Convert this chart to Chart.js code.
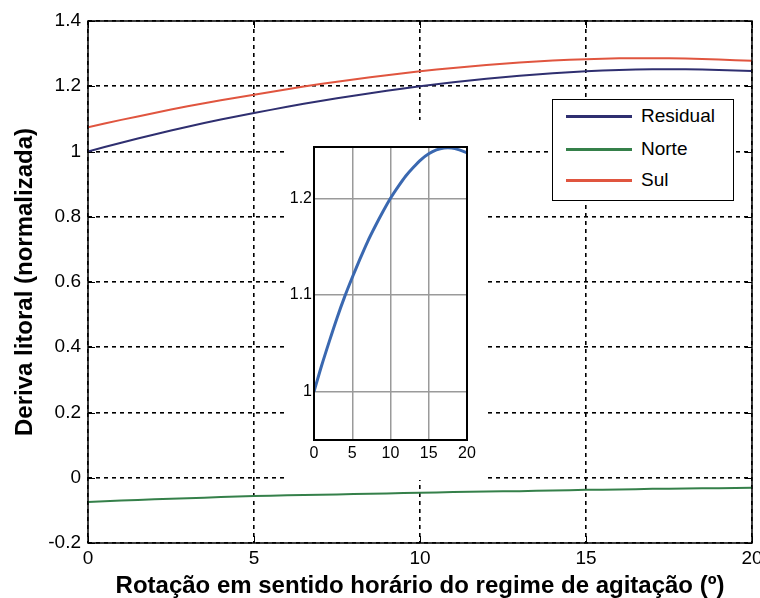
<!DOCTYPE html>
<html><head><meta charset="utf-8">
<script src="https://cdn.jsdelivr.net/npm/chart.js@4.4.1/dist/chart.umd.min.js"></script>
<style>
html,body{margin:0;padding:0;background:#fff;}
#wrap{position:relative;width:760px;height:598px;overflow:hidden;background:#fff;}
#main{position:absolute;left:0;top:0;}
#inset{position:absolute;left:285px;top:120px;background:#fff;}
#legend{position:absolute;left:552px;top:99px;width:180px;height:100px;border:1px solid #000;background:#fff;font-family:"Liberation Sans",Arial,sans-serif;font-size:19px;color:#000;}
.sw{position:absolute;left:13px;width:66px;height:3px;}
.lbl{position:absolute;left:88px;line-height:22px;}
</style></head>
<body><div id="wrap">
<canvas id="main" width="760" height="598"></canvas>
<canvas id="inset" width="201" height="360"></canvas>
<div id="legend"></div>
</div>
<script>
// ---- data ----
const angles   = [0,1,2,3,4,5,6,7,8,9,10,11,12,13,14,15,16,17,18,19,20];
const residual = [1.000,1.027,1.052,1.076,1.098,1.118,1.137,1.155,1.171,1.186,1.200,1.212,1.223,1.232,1.240,1.246,1.250,1.252,1.252,1.250,1.247];
const norte    = [-0.074,-0.070,-0.066,-0.063,-0.059,-0.056,-0.054,-0.052,-0.050,-0.048,-0.046,-0.044,-0.042,-0.041,-0.039,-0.037,-0.036,-0.034,-0.033,-0.032,-0.031];
const sul      = [1.074,1.097,1.118,1.139,1.157,1.174,1.191,1.207,1.221,1.234,1.246,1.256,1.265,1.273,1.279,1.283,1.286,1.286,1.285,1.282,1.278];
const seriesNames  = ['Residual','Norte','Sul'];
const seriesColors = ['#2f2f70','#35804a','#e0553f'];
const xTicks       = [0,5,10,15,20];
const xTickLabels  = ['0','5','10','15','20'];
const yTicks       = [-0.2,0,0.2,0.4,0.6,0.8,1,1.2,1.4];
const yTickLabels  = ['-0.2','0','0.2','0.4','0.6','0.8','1','1.2','1.4'];
const insetYTicks  = [1,1.1,1.2];
const insetYTickLabels = ['1','1.1','1.2'];
const xTitle = 'Rotação em sentido horário do regime de agitação (º)';
const yTitle = 'Deriva litoral (normalizada)';

const FONT = '"Liberation Sans", Arial, Helvetica, sans-serif';
const pts = arr => angles.map((a,i)=>({x:a,y:arr[i]}));

const frame = {
  id:'frame',
  afterDraw(chart, args, opts){
    const {ctx, chartArea:a, scales} = chart;
    ctx.save();
    ctx.setLineDash([]);
    ctx.strokeStyle = '#000';
    if (opts.tick){
      ctx.lineWidth = 1;
      ctx.beginPath();
      scales.y.ticks.forEach(t=>{
        const y = Math.round(scales.y.getPixelForValue(t.value))+0.5;
        ctx.moveTo(a.left,y); ctx.lineTo(a.left+opts.tick,y);
        ctx.moveTo(a.right,y); ctx.lineTo(a.right-opts.tick,y);
      });
      scales.x.ticks.forEach(t=>{
        const x = Math.round(scales.x.getPixelForValue(t.value))+0.5;
        ctx.moveTo(x,a.bottom); ctx.lineTo(x,a.bottom-opts.tick);
        ctx.moveTo(x,a.top); ctx.lineTo(x,a.top+opts.tick);
      });
      ctx.stroke();
    }
    ctx.lineWidth = opts.lw || 1.5;
    ctx.strokeRect(a.left, a.top, a.right-a.left, a.bottom-a.top);
    ctx.restore();
  }
};

function fixTicks(arr){ return s => { s.ticks = arr.map(v=>({value:v})); }; }

new Chart(document.getElementById('main'), {
  type:'line',
  data:{
    datasets:[
      {label:seriesNames[0], data:pts(residual), borderColor:seriesColors[0], borderWidth:2},
      {label:seriesNames[1], data:pts(norte), borderColor:seriesColors[1], borderWidth:2},
      {label:seriesNames[2], data:pts(sul), borderColor:seriesColors[2], borderWidth:2}
    ]
  },
  options:{
    responsive:false, animation:false, devicePixelRatio:1,
    layout:{padding:{top:21,right:8,left:0,bottom:0}},
    elements:{point:{radius:0}, line:{tension:0.2}},
    plugins:{legend:{display:false}, tooltip:{enabled:false}, frame:{lw:1.5, tick:7}},
    scales:{
      x:{
        type:'linear', min:0, max:20,
        afterBuildTicks: fixTicks(xTicks),
        afterFit: s => { s.height = 55; s.paddingLeft = 0; s.paddingRight = 0; },
        grid:{color:'#000', lineWidth:1.6, drawTicks:false},
        border:{display:false, dash:[4,4]},
        ticks:{font:{family:FONT, size:19}, color:'#000', padding:4, maxRotation:0, autoSkip:false,
               callback:(v,i)=>xTickLabels[i]},
        title:{display:true, text:xTitle, color:'#000',
               font:{family:FONT, size:24, weight:'bold', lineHeight:1}, padding:{top:0,bottom:0}}
      },
      y:{
        type:'linear', min:-0.2, max:1.4,
        afterBuildTicks: fixTicks(yTicks),
        afterFit: s => { s.width = 88; s.paddingTop = 0; s.paddingBottom = 0; },
        grid:{color:'#000', lineWidth:1.6, drawTicks:false},
        border:{display:false, dash:[4,4]},
        ticks:{font:{family:FONT, size:19}, color:'#000', padding:7, autoSkip:false,
               callback:(v,i)=>yTickLabels[i]},
        title:{display:true, text:yTitle, color:'#000',
               font:{family:FONT, size:24, weight:'bold', lineHeight:1}, padding:{top:13,bottom:0}}
      }
    }
  },
  plugins:[frame]
});

new Chart(document.getElementById('inset'), {
  type:'line',
  data:{datasets:[{label:seriesNames[0], data:pts(residual), borderColor:'#3a68b0', borderWidth:3}]},
  options:{
    responsive:false, animation:false, devicePixelRatio:1,
    layout:{padding:{top:27,right:19,left:0,bottom:0}},
    elements:{point:{radius:0}, line:{tension:0.3}},
    plugins:{legend:{display:false}, tooltip:{enabled:false}, frame:{lw:2, tick:0}},
    scales:{
      x:{
        type:'linear', min:0, max:20,
        afterBuildTicks: fixTicks(xTicks),
        afterFit: s => { s.height = 40; s.paddingLeft = 0; s.paddingRight = 0; },
        grid:{color:'#9a9a9a', lineWidth:1.5, drawTicks:false},
        border:{display:false},
        ticks:{font:{family:FONT, size:16}, color:'#000', padding:4, maxRotation:0, autoSkip:false,
               callback:(v,i)=>xTickLabels[i]}
      },
      y:{
        type:'linear', min:0.95, max:1.253,
        afterBuildTicks: fixTicks(insetYTicks),
        afterFit: s => { s.width = 29; s.paddingTop = 0; s.paddingBottom = 0; },
        grid:{color:'#9a9a9a', lineWidth:1.5, drawTicks:false},
        border:{display:false},
        ticks:{font:{family:FONT, size:16}, color:'#000', padding:2, autoSkip:false,
               callback:(v,i)=>insetYTickLabels[i]}
      }
    }
  },
  plugins:[frame]
});

// legend (HTML text)
const lg = document.getElementById('legend');
const rowY = [16, 49, 80];
seriesNames.forEach((n,i)=>{
  const sw = document.createElement('div');
  sw.className='sw'; sw.style.top=(rowY[i]-1)+'px'; sw.style.background=seriesColors[i];
  const t = document.createElement('div');
  t.className='lbl'; t.style.top=(rowY[i]-11)+'px'; t.textContent=n;
  lg.appendChild(sw); lg.appendChild(t);
});
</script>
</body></html>
